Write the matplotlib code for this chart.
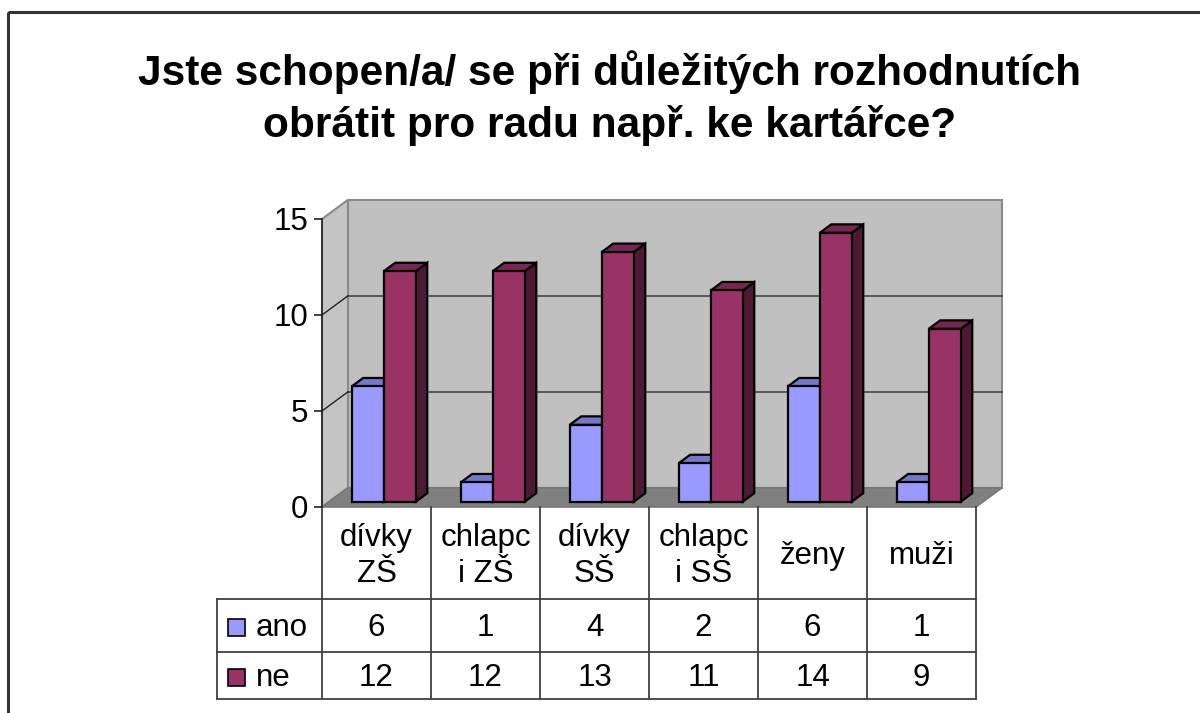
import matplotlib.pyplot as plt
from matplotlib.patches import Polygon, Rectangle
from matplotlib.transforms import Affine2D, blended_transform_factory

plt.rcParams['font.family'] = ['Liberation Sans', 'DejaVu Sans']

# ---- data ----
title = 'Jste schopen/a/ se při důležitých rozhodnutích\nobrátit pro radu např. ke kartářce?'
categories = ['dívky\nZŠ', 'chlapc\ni ZŠ', 'dívky\nSŠ', 'chlapc\ni SŠ', 'ženy', 'muži']
series_names = ['ano', 'ne']
ano = [6, 1, 4, 2, 6, 1]
ne = [12, 12, 13, 11, 14, 9]
series_values = [ano, ne]
series_colors = ['#9999FF', '#993366']
yticks = [0, 5, 10, 15]
ymax = 15

# ---- figure / axes ----
W, H = 1200, 713
fig = plt.figure(figsize=(W / 100, H / 100), dpi=100)
# helper transform: reference pixel coords (origin top-left) -> figure
refpx = Affine2D().scale(1 / W, -1 / H).translate(0, 1) + fig.transFigure

ax = fig.add_axes([322 / W, 1 - 507 / H, 654 / W, 288 / H])
ncat = len(categories)
ax.set_xlim(0, ncat)
ax.set_ylim(0, ymax)
ax.patch.set_visible(False)
for s in ['top', 'right', 'bottom']:
    ax.spines[s].set_visible(False)
ax.spines['left'].set_color('#222222')
ax.spines['left'].set_linewidth(1.2)
ax.spines['left'].set_zorder(6)
ax.set_xticks([])
ax.set_yticks(yticks)
ax.tick_params(axis='y', direction='out', length=6, width=1.2, color='#222222',
               labelsize=22.5, pad=4)

# 3D depth vector (data units)
DX, DY = 0.2385, 1.0

# walls and floor
wall = '#C0C0C0'
ax.add_patch(Polygon([(DX, DY), (ncat + DX, DY), (ncat + DX, ymax + DY), (DX, ymax + DY)],
                     closed=True, fc=wall, ec='#8a8a8a', lw=1.5, zorder=1, clip_on=False))
ax.add_patch(Polygon([(0, 0), (DX, DY), (DX, ymax + DY), (0, ymax)],
                     closed=True, fc='#C4C4C4', ec='#8a8a8a', lw=1.5, zorder=1, clip_on=False))
ax.add_patch(Polygon([(0, 0), (ncat, 0), (ncat + DX, DY), (DX, DY)],
                     closed=True, fc='#808080', ec='#777777', lw=1.2, zorder=1, clip_on=False))
for v in yticks[1:-1]:
    ax.plot([DX, ncat + DX], [v + DY, v + DY], color='#454545', lw=1.2, zorder=2, clip_on=False)
    ax.plot([0, DX], [v, v + DY], color='#222222', lw=1.0, zorder=2, clip_on=False)

# 3D bars
bw = 0.294
f0, f1 = 0.28, 0.72
ddx, ddy = (f1 - f0) * DX, (f1 - f0) * DY
for i in range(ncat):
    for k, vals in enumerate(series_values):
        c = series_colors[k]
        h = vals[i]
        x0 = i + 0.5 - bw + k * bw + f0 * DX
        yb = f0 * DY
        yt = yb + h
        z = 3 + i * 0.1 + k * 0.01
        top_c = tuple(0.78 * t for t in plt.matplotlib.colors.to_rgb(c))
        side_c = tuple(0.5 * t for t in plt.matplotlib.colors.to_rgb(c))
        ax.add_patch(Polygon([(x0 + bw, yb), (x0 + bw + ddx, yb + ddy), (x0 + bw + ddx, yt + ddy), (x0 + bw, yt)],
                             closed=True, fc=side_c, ec='black', lw=1.6, zorder=z, clip_on=False))
        ax.add_patch(Polygon([(x0, yt), (x0 + bw, yt), (x0 + bw + ddx, yt + ddy), (x0 + ddx, yt + ddy)],
                             closed=True, fc=top_c, ec='black', lw=1.6, zorder=z, clip_on=False))
        ax.add_patch(Rectangle((x0, yb), bw, h, fc=c, ec='black', lw=1.6, zorder=z + 0.005,
                               clip_on=False))

# ---- data table ----
tx = blended_transform_factory(ax.transData, refpx)
row_y = [507, 599, 652, 699]
legend_left = 217
grid_c = '#404040'
line_kw = dict(color=grid_c, lw=1.3, clip_on=False, zorder=5)
for j in range(ncat + 1):
    ax.plot([j, j], [row_y[0], row_y[-1]], transform=tx, **line_kw)
for yy in row_y[1:]:
    ax.plot([legend_left, 976], [yy, yy], transform=refpx, **line_kw)
ax.plot([legend_left, legend_left], [row_y[1], row_y[-1]], transform=refpx, **line_kw)

header_y = (row_y[0] + row_y[1]) / 2 + 3
for j, cat in enumerate(categories):
    ax.text(j + 0.5, header_y, cat, transform=tx, ha='center', va='center',
            fontsize=22.5, linespacing=1.28)

for k, (name, vals) in enumerate(zip(series_names, series_values)):
    yc = (row_y[k + 1] + row_y[k + 2]) / 2 + 2
    for j, v in enumerate(vals):
        ax.text(j + 0.5, yc, str(v), transform=tx, ha='center', va='center', fontsize=22.5)
    fig.add_artist(Rectangle((228, yc - 9), 17, 17, fc=series_colors[k], ec='black', lw=1.2,
                             transform=refpx))
    fig.text(256 / W, 1 - yc / H, name, ha='left', va='center', fontsize=22.5)

# ---- title and frame ----
fig.text(610 / W, 1 - 50 / H, title, ha='center', va='top', fontsize=30.5,
         fontweight='bold', linespacing=1.34)
fig.add_artist(Rectangle((8, 12), 1300, 800, fill=False, ec='#333333', lw=2.2, transform=refpx))

fig.savefig('out.png', dpi=100)
